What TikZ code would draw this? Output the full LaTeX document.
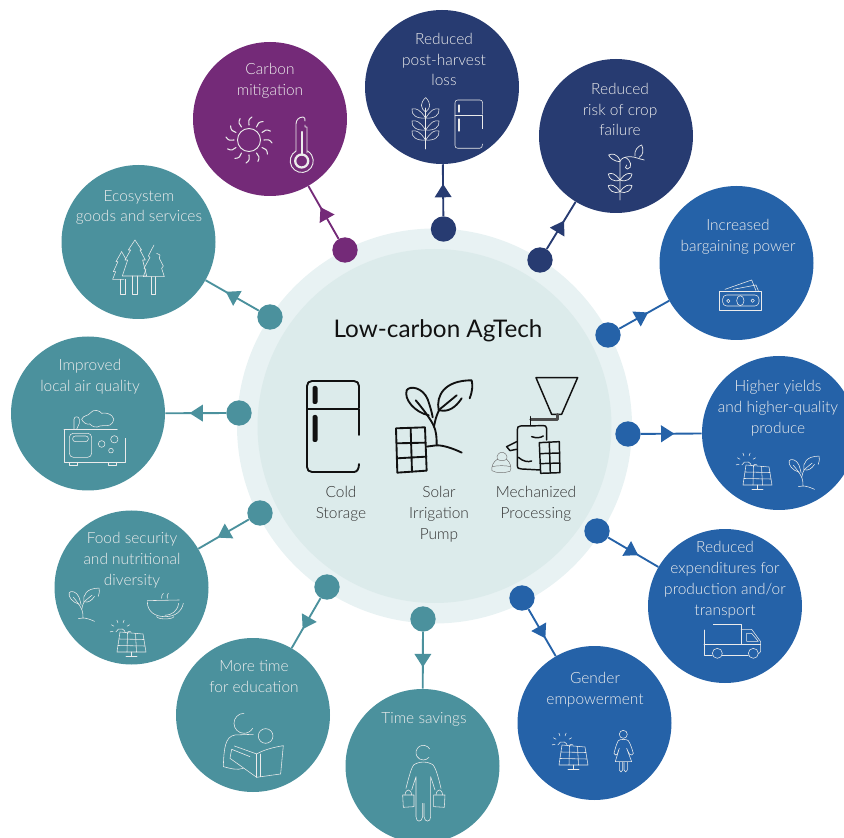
\documentclass[tikz,border=0pt]{standalone}
\usepackage{fontspec}
\setmainfont{Lato Light}
\newfontfamily\titlefont{Lato}
\usetikzlibrary{arrows.meta,decorations.markings}
\definecolor{tealc}{HTML}{4B919D}
\definecolor{purplec}{HTML}{742A78}
\definecolor{navyc}{HTML}{273B71}
\definecolor{bluec}{HTML}{2562A8}
\definecolor{ringout}{HTML}{E8F2F3}
\definecolor{ringin}{HTML}{DCEBEB}
\definecolor{inkc}{HTML}{111111}
\tikzset{
  big/.style={circle,fill=#1,minimum size=115.5pt,inner sep=0pt},
  dotc/.style={circle,fill=#1,minimum size=19pt,inner sep=0pt},
  link/.style 2 args={draw=#1,line width=1.4pt,postaction={decorate},
    decoration={markings,mark=at position #2 with {\arrow[#1]{Triangle[length=10pt,width=12.5pt]}}}},
  lbl/.style={text=white!93!black,align=center,font=\fontsize{11.6}{15.7}\selectfont,inner sep=0pt,yshift=-1.1pt},
  dark/.style={text=black!80,align=center,font=\fontsize{11.6}{15.7}\selectfont,inner sep=0pt,yshift=-1.1pt},
  wline/.style={draw=white!92!black,line width=.42pt,line cap=round,line join=round},
  kline/.style={draw=inkc,line width=1.4pt,line cap=round,line join=round},
  zm/.style 2 args={shift={(#1,#2)},scale=.3333},
  pics/fridge/.style={code={
    \draw[pic actions] (52,27) -- (52,5) .. controls (52,2) and (50,0) .. (47,0) -- (5,0) .. controls (2,0) and (0,2) .. (0,5) -- (0,86) .. controls (0,89) and (2,91) .. (5,91) -- (47,91) .. controls (50,91) and (52,88) .. (52,83);
    \draw[pic actions] (0,28) -- (52,28) -- (52,54);
  }},
  pics/plant/.style={code={
    \draw[pic actions] (-10,1.3) -- (0,0) .. controls (8,0) and (18,4) .. (25,7.3);
    \draw[pic actions] (0,0) .. controls (0,-10) and (-1,-15) .. (-2.7,-18.7) .. controls (-5,-25) and (-15,-38) .. (-21,-45);
    \draw[pic actions] (-8,-30) .. controls (-22,-33) and (-33,-46) .. (-30,-55) .. controls (-27,-60) and (-14,-58) .. (-9,-46) .. controls (-7,-40) and (-5,-34) .. (-4,-28);
    \draw[pic actions] (-2.7,-18.7) .. controls (-1,-28) and (1,-33) .. (3,-36) -- (20,-50);
    \draw[pic actions] (2,-35) .. controls (-1,-50) and (8,-65) .. (35,-65) .. controls (36,-60) and (36,-55) .. (33,-47);
    \draw[pic actions] (3,-35) .. controls (12,-33) and (19,-38) .. (25,-47);
  }},
  pics/sunpanel/.style={code={
    \draw[pic actions] (3,0) -- (26,2) -- (29,20) -- (0,20) -- cycle;
    \draw[pic actions] (2,7) -- (27,7.5) (1,13.5) -- (28,14) (10.5,.7) -- (10,20) (18.5,1.4) -- (19.5,20);
    \draw[pic actions] (14.5,20) -- (14.5,24) (9,24.5) -- (20,24.5);
    \draw[pic actions] (-1.2,0) arc[start angle=200,end angle=350,radius=5];
    \foreach \a in {170,210,250,290,330,10}
      \draw[pic actions] ({3.5+7.5*cos(\a)},{-2+7.5*sin(\a)}) -- ({3.5+10.5*cos(\a)},{-2+10.5*sin(\a)});
  }},
}
\begin{document}
\begin{tikzpicture}[x=.75pt,y=-.75pt]
\useasboundingbox (0,0) rectangle (844,838);
\clip (0,0) rectangle (844,838);
% central disc
\fill[ringout] (434.5,426) circle[radius=197.5];
\node[circle,fill=ringin,minimum size=265.5pt,inner sep=0pt] (hub) at (434.5,426) {};

% benefit circles
\node[big=purplec] (carbon) at (270,119) {};
\node[big=navyc] (post) at (442,87) {};
\node[big=navyc] (risk) at (616,136) {};
\node[big=bluec] (barg) at (736.5,263) {};
\node[big=bluec] (yield) at (779,433) {};
\node[big=bluec] (exp) at (725,606) {};
\node[big=bluec] (gender) at (594.5,723) {};
\node[big=tealc] (time) at (422.5,766) {};
\node[big=tealc] (edu) at (253,715) {};
\node[big=tealc] (food) at (131.5,587.5) {};
\node[big=tealc] (air) at (88,413.5) {};
\node[big=tealc] (eco) at (138.5,242) {};

% hub dots
\node[dotc=purplec] (dcarbon) at (345,250) {};
\node[dotc=navyc] (dpost) at (443.5,229) {};
\node[dotc=navyc] (drisk) at (540,260) {};
\node[dotc=bluec] (dbarg) at (608,335) {};
\node[dotc=bluec] (dyield) at (628,434) {};
\node[dotc=bluec] (dexp) at (597,531) {};
\node[dotc=bluec] (dgender) at (522,598) {};
\node[dotc=tealc] (dtime) at (423,619) {};
\node[dotc=tealc] (dedu) at (327,587) {};
\node[dotc=tealc] (dfood) at (260,513) {};
\node[dotc=tealc] (dair) at (239,413) {};
\node[dotc=tealc] (deco) at (270,317) {};

% connectors
\draw[link={purplec}{.6}] (dcarbon) -- (carbon);
\draw[link={navyc}{.62}] (dpost) -- (post);
\draw[link={navyc}{.6}] (drisk) -- (risk);
\draw[link={bluec}{.58}] (dbarg) -- (barg);
\draw[link={bluec}{.55}] (dyield) -- (yield);
\draw[link={bluec}{.6}] (dexp) -- (exp);
\draw[link={bluec}{.62}] (dgender) -- (gender);
\draw[link={tealc}{.62}] (dtime) -- (time);
\draw[link={tealc}{.62}] (dedu) -- (edu);
\draw[link={tealc}{.62}] (dfood) -- (food);
\draw[link={tealc}{.6}] (dair) -- (air);
\draw[link={tealc}{.62}] (deco) -- (eco);

% labels
\node[lbl] (tcarbon) at (270,79.5) {Carbon\\mitigation};
\node[lbl] (tpost) at (444,58) {Reduced\\post-harvest\\loss};
\node[lbl] (trisk) at (620,108) {Reduced\\risk of crop\\failure};
\node[lbl] (tbarg) at (738,235) {Increased\\bargaining power};
\node[lbl] (tyield) at (778,407) {Higher yields\\and higher-quality\\produce};
\node[lbl] (texp) at (725,578) {Reduced\\expenditures for\\production and/or\\transport};
\node[lbl] (tgender) at (595,688) {Gender\\empowerment};
\node[lbl] (ttime) at (424,718) {Time savings};
\node[lbl] (tedu) at (254,675) {More time\\for education};
\node[lbl] (tfood) at (132,559) {Food security\\and nutritional\\diversity};
\node[lbl] (tair) at (90,375) {Improved\\local air quality};
\node[lbl] (teco) at (139,206) {Ecosystem\\goods and services};

\node[inner sep=0pt,text=inkc,font=\titlefont\fontsize{18.2}{21}\selectfont] (title) at (438,331) {Low-carbon AgTech};
\node[dark] (tcold) at (341,502.5) {Cold\\Storage};
\node[dark] (tsolar) at (439,513) {Solar\\Irrigation\\Pump};
\node[dark] (tmech) at (536,502.5) {Mechanized\\Processing};

% === central icons ===
\pic[kline] at (307,381) {fridge};
\fill[inkc,rounded corners=1.5pt] (312.5,386) rectangle (317.5,404);
\fill[inkc,rounded corners=1.5pt] (312.5,415) rectangle (317.5,442);
\pic[kline] at (436.7,445.3) {plant};
\begin{scope}[zm={280}{300},kline]
  \draw (348,385) -- (435,382) -- (440,512) -- (352,518) -- cycle;
  \draw (392,384) -- (396,515) (350,430) -- (437,428) (351,475) -- (439,470);
\end{scope}
\begin{scope}[zm={280}{300},draw=inkc,line width=1.1pt,line join=round,line cap=round]
  \draw (768,233) -- (893,233) -- (845,343) -- (815,343) -- cycle;
  \draw[line width=1.8pt,draw=black!70] (832,343) -- (832,358) -- (752,358);
  \draw (752,350) -- (752,375);
  \draw (800,420) -- (800,385) .. controls (800,378) and (795,377) .. (790,377) -- (722,378) .. controls (714,378) and (712,382) .. (712,390) -- (712,495) .. controls (712,505) and (716,507) .. (725,507) -- (780,510);
  \draw (755,410) .. controls (770,415) and (780,414) .. (790,408);
  \draw (715,472) .. controls (730,485) and (745,487) .. (755,483);
  \draw (710,425) -- (680,440) -- (690,452) -- (710,448);
  \draw (778,428) -- (838,425) -- (840,518) -- (782,520) -- cycle;
  \draw (808,427) -- (811,519) (779,461) -- (839,459) (781,491) -- (840,489);
  \begin{scope}[draw=black!55,line width=.35pt]
    \draw (652,478) .. controls (648,465) and (660,455) .. (665,458) .. controls (672,455) and (685,465) .. (680,478) .. controls (692,488) and (696,505) .. (690,514) .. controls (670,520) and (650,520) .. (636,512) .. controls (634,498) and (640,485) .. (652,478);
    \draw (652,478) .. controls (660,483) and (672,483) .. (680,478);
    \draw (637,500) .. controls (655,496) and (675,496) .. (692,500);
  \end{scope}
\end{scope}

% === carbon icons ===
\begin{scope}[wline]
  \draw[line width=.7pt] (249,140) circle[radius=11.5];
  \foreach \a in {0,30,...,330}
    \draw[rotate around={\a:(249,140)},line width=.8pt] (264,140) .. controls (267,139) and (270,139.5) .. (272,143);
  \draw[line width=.7pt] (307,153) -- (307,127) -- (305,127) -- (305,125) (296,151) -- (296,124) .. controls (296,120) and (299,117) .. (303,117) .. controls (305,117) and (305,119) .. (305,121);
  \draw[line width=.7pt] (296,151) arc[start angle=-120,end angle=-420,radius=11.5];
  \draw[line width=1.7pt] (301.7,161) circle[radius=6.5];
  \draw[line width=1.6pt] (302,132) -- (302,155);
\end{scope}

% === post-harvest icons ===
\pic[wline,scale=.53] at (455,100) {fridge};
\begin{scope}[wline]
  \draw[line width=.9pt] (459,105) -- (459,112) (459,119) -- (459,131);
  \draw (425.7,149) -- (425.7,108);
  \draw (425.7,97.5) .. controls (420,103) and (420,108) .. (425.7,112) .. controls (431,108) and (431,103) .. (425.7,97.5);
  \foreach \k in {31,19,9} {
    \draw (425.7,149-\k) .. controls (420,141-\k) and (417,139-\k) .. (412,140-\k) .. controls (411,146-\k) and (417,150-\k) .. (425.7,149-\k);
    \draw (425.7,149-\k) .. controls (431,141-\k) and (434,139-\k) .. (439,140-\k) .. controls (440,146-\k) and (434,150-\k) .. (425.7,149-\k);
  }
\end{scope}

% === crop failure icon ===
\begin{scope}[zm={530}{50},wline,line width=.55pt]
  \draw (270,450) -- (270,335) .. controls (272,325) and (285,320) .. (300,320) .. controls (315,320) and (330,328) .. (343,330);
  \draw (270,332) .. controls (262,310) and (245,310) .. (236,315) .. controls (240,325) and (255,335) .. (270,335);
  \draw (285,322) .. controls (305,330) and (308,355) .. (292,357) .. controls (285,357) and (285,350) .. (290,345);
  \draw (315,318) .. controls (312,300) and (325,288) .. (335,285) .. controls (342,300) and (340,315) .. (328,322);
  \foreach \k in {0,35} {
    \draw (270,\k+390) .. controls (255,\k+370) and (245,\k+368) .. (235,\k+372) .. controls (236,\k+385) and (250,\k+398) .. (270,\k+390);
    \draw (270,\k+390) .. controls (285,\k+370) and (295,\k+368) .. (306,\k+372) .. controls (305,\k+385) and (290,\k+398) .. (270,\k+390);
  }
\end{scope}

% === bargaining power: banknotes ===
\begin{scope}[zm={600}{200},wline]
  \draw (358,273) rectangle (485,330);
  \draw[rounded corners=3pt] (368,285) rectangle (477,318);
  \draw (421,302) ellipse[x radius=11,y radius=15];
  \draw (385,303) circle[radius=5] (458,302) circle[radius=5];
  \draw (375,268) -- (455,240) -- (468,272);
  \draw (400,268) -- (468,255) -- (475,272);
\end{scope}

% === yields ===
\pic[wline] at (743,465) {sunpanel};
\pic[wline,scale=.46] at (803,486) {plant};

% === truck ===
\begin{scope}[zm={640}{520},wline]
  \draw (220,313) -- (303,313) -- (303,373);
  \draw (192,330) -- (192,405) -- (217,405);
  \draw (192,373) -- (362,373);
  \draw (303,328) -- (335,328) -- (362,365) -- (362,395) -- (355,402);
  \draw (320,340) -- (335,340) -- (355,364) -- (320,364) -- cycle;
  \draw (232,400) circle[radius=15] (340,400) circle[radius=15];
  \draw (247,405) -- (325,405);
\end{scope}

% === gender ===
\pic[wline] at (559,745) {sunpanel};
\begin{scope}[zm={340}{600},wline]
  \draw (850,403) circle[radius=12];
  \draw (835,422) .. controls (828,435) and (825,450) .. (822,460) .. controls (824,466) and (830,467) .. (832,462) -- (838,445) -- (826,485) -- (875,485) -- (860,445) -- (868,462) .. controls (872,467) and (880,466) .. (880,460) .. controls (877,450) and (872,432) .. (865,422) .. controls (860,417) and (840,417) .. (835,422);
  \draw (838,487) -- (838,510) .. controls (838,518) and (848,518) .. (848,510) -- (848,487);
  \draw (852,487) -- (852,510) .. controls (852,518) and (862,518) .. (862,510) -- (862,487);
\end{scope}

% === time savings: woman with buckets ===
\begin{scope}[zm={340}{600},wline]
  \draw (269,447) arc[start angle=-30,end angle=-320,radius=22];
  \draw (230,490) .. controls (218,490) and (212,510) .. (198,565) (270,490) .. controls (282,490) and (290,510) .. (303,565);
  \draw (230,490) .. controls (240,485) and (260,485) .. (270,490);
  \draw (215,570) -- (228,530) -- (228,650) .. controls (228,668) and (246,668) .. (248,650) -- (248,610);
  \draw (285,570) -- (272,530) -- (272,650) .. controls (272,668) and (254,668) .. (252,650) -- (252,610);
  \draw (188,585) -- (222,585) -- (222,620) -- (190,622) -- cycle;
  \draw (281,585) -- (315,585) -- (313,622) -- (281,620) -- cycle;
  \draw (195,585) .. controls (197,565) and (213,565) .. (215,585);
  \draw (288,585) .. controls (290,565) and (306,565) .. (308,585);
\end{scope}

% === education: reader ===
\begin{scope}[zm={40}{500},wline]
  \draw (612,640) arc[start angle=-90,end angle=-330,radius=30];
  \draw (677,708) circle[radius=22];
  \draw (640,703) -- (585,705) .. controls (555,710) and (552,745) .. (550,800) .. controls (570,805) and (590,812) .. (610,805);
  \draw (583,738) -- (650,762) .. controls (670,750) and (700,742) .. (730,737) -- (722,822) -- (650,832) -- (570,775) -- (575,748) -- (630,770);
  \draw (650,762) -- (650,832) (660,762) -- (660,830);
\end{scope}

% === food icons ===
\pic[wline,scale=.46] at (83,618) {plant};
\pic[wline] at (117,632) {sunpanel};
\begin{scope}[zm={40}{500},wline]
  \draw (322,302) -- (418,300);
  \draw (322,305) .. controls (322,335) and (345,350) .. (375,350) .. controls (405,350) and (425,335) .. (430,310);
  \draw (416,310) .. controls (412,335) and (395,345) .. (375,346);
  \draw (350,350) .. controls (352,358) and (395,360) .. (402,350);
  \draw (365,295) .. controls (362,288) and (368,285) .. (370,280) (382,295) .. controls (378,288) and (384,285) .. (385,280);
\end{scope}

% === air: generator ===
\begin{scope}[zm={0}{170},wline]
  \draw (192,778) -- (352,778);
  \draw (192,778) -- (192,878) -- (375,878) -- (375,805);
  \draw (208,878) -- (208,887) -- (232,887) -- (232,878) (325,878) -- (325,887) -- (348,887) -- (348,878);
  \draw[rounded corners=3pt] (208,790) rectangle (275,862);
  \draw[rounded corners=2pt] (218,798) rectangle (265,815);
  \draw (305,822) circle[radius=10] (343,808) circle[radius=11] (333,842) circle[radius=7];
  \draw (222,778) -- (222,748) .. controls (222,738) and (238,738) .. (238,748) -- (238,760) -- (230,778);
  \draw (245,748) .. controls (250,735) and (265,738) .. (270,730) .. controls (280,715) and (300,722) .. (305,730) .. controls (330,725) and (350,745) .. (338,758) .. controls (330,772) and (310,765) .. (300,768) .. controls (290,775) and (275,770) .. (270,762) .. controls (260,765) and (250,758) .. (245,748);
\end{scope}

% === ecosystem: trees ===
\begin{scope}[zm={0}{170},wline]
  \draw (405,210) -- (385,240) -- (392,240) -- (375,270) -- (383,270) -- (367,318) -- (440,318) -- (428,270) -- (436,270) -- (420,240) -- (425,240) -- cycle;
  \draw (397,318) -- (397,372) -- (412,372) -- (412,318);
  \draw (365,245) -- (348,275) -- (354,275) -- (340,305) -- (347,305) -- (338,328) -- (372,328);
  \draw (365,245) -- (378,268);
  \draw (360,328) -- (360,372) -- (375,372) -- (375,328);
  \draw (462,225) -- (445,258) -- (450,262) -- (432,295) -- (438,298) -- (430,320) -- (493,320) -- (485,295) -- (490,288) -- (478,265) -- (480,255) -- (470,250);
  \draw (453,320) -- (453,372) -- (467,372) -- (467,320);
\end{scope}
\end{tikzpicture}
\end{document}
